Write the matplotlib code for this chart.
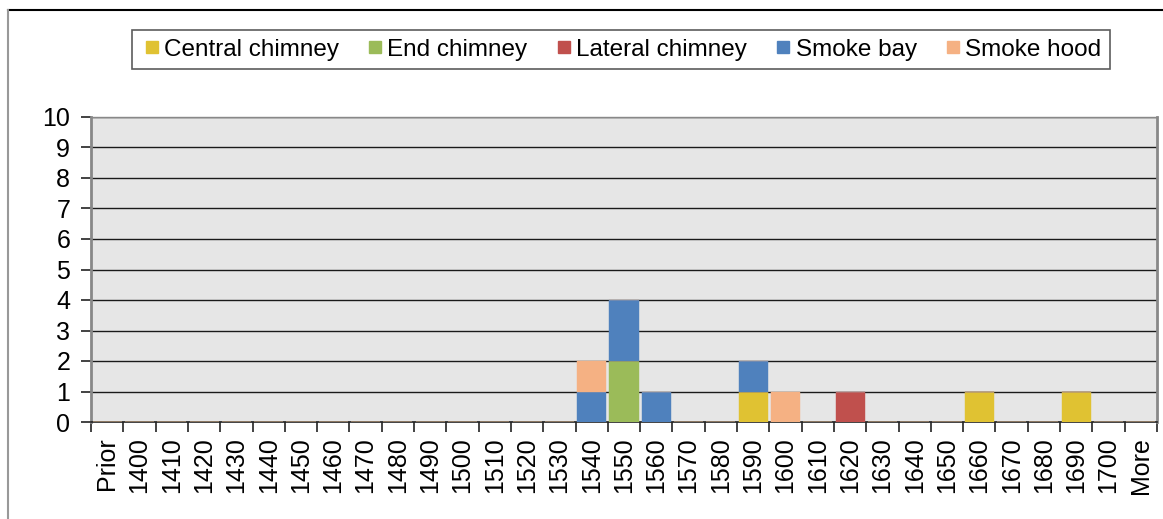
import matplotlib
matplotlib.use("Agg")
import matplotlib.pyplot as plt
import numpy as np
from matplotlib.lines import Line2D

plt.rcParams['font.family'] = ['Liberation Sans', 'DejaVu Sans']

# categories (bins)
categories = ["Prior"] + [str(y) for y in range(1400, 1701, 10)] + ["More"]

# counts per series, keyed by bin label
central = {"1590": 1, "1660": 1, "1690": 1}
end_ch = {"1550": 2}
lateral = {"1620": 1}
smoke_bay = {"1540": 1, "1550": 2, "1560": 1, "1590": 1}
smoke_hood = {"1540": 1, "1600": 1}

series_names = ["Central chimney", "End chimney", "Lateral chimney", "Smoke bay", "Smoke hood"]
series_data = [central, end_ch, lateral, smoke_bay, smoke_hood]
colors = ["#E0C232", "#9BBB59", "#C0504D", "#4F81BD", "#F5B183"]

fig = plt.figure(figsize=(11.63, 5.19), dpi=100)
ax = fig.add_axes([91/1163, 1-422/519, (1157-91)/1163, (422-117)/519])
ax.set_facecolor("#E6E6E6")

x = np.arange(len(categories))
bottom = np.zeros(len(categories))
handles = []
for name, d, c in zip(series_names, series_data, colors):
    vals = np.array([d.get(cat, 0) for cat in categories], dtype=float)
    ax.bar(x, vals, width=0.9, bottom=bottom, color=c, edgecolor=c,
           linewidth=0.3, zorder=3)
    bottom += vals
    handles.append(Line2D([], [], marker="s", linestyle="none", markersize=9,
                          markerfacecolor=c, markeredgecolor=c, label=name))

ax.set_xlim(-0.5, len(categories) - 0.5)
ax.set_ylim(0, 10)
ax.set_yticks(range(0, 11))
ax.yaxis.grid(True, color="#1a1a1a", linewidth=1.0, zorder=1)
ax.set_axisbelow(True)

ax.set_xticks(x)
ax.set_xticklabels(categories, rotation=90, fontsize=18)
ax.set_xticks(np.arange(-0.5, len(categories), 1), minor=True)
ax.tick_params(axis="x", which="major", length=0, pad=11)
ax.tick_params(axis="x", which="minor", length=7, width=1.2, color="#222222")
ax.tick_params(axis="y", labelsize=18, length=7, width=1.2, color="#222222", pad=8)

for s in ["left", "right"]:
    ax.spines[s].set_color("#888888")
    ax.spines[s].set_linewidth(2)
ax.spines["bottom"].set_color("#222222")
ax.spines["bottom"].set_linewidth(1.2)
ax.spines["top"].set_color("#888888")
ax.spines["top"].set_linewidth(1)

leg = fig.legend(handles=handles, loc="center", bbox_to_anchor=(621/1163, 1-49.5/519),
                 ncol=5, fontsize=17.5, frameon=True, fancybox=False,
                 handletextpad=0.05, columnspacing=1.05, borderpad=0.35,
                 handlelength=0.9)
leg.get_frame().set_edgecolor("#333333")
leg.get_frame().set_linewidth(1.2)

# outer chart border (top and left only visible)
fig.add_artist(Line2D([8/1163, 1], [1-10/519, 1-10/519], color="black", linewidth=1.5))
fig.add_artist(Line2D([8/1163, 8/1163], [0, 1-10/519], color="#999999", linewidth=1.5))

fig.savefig("out.png", dpi=100)
